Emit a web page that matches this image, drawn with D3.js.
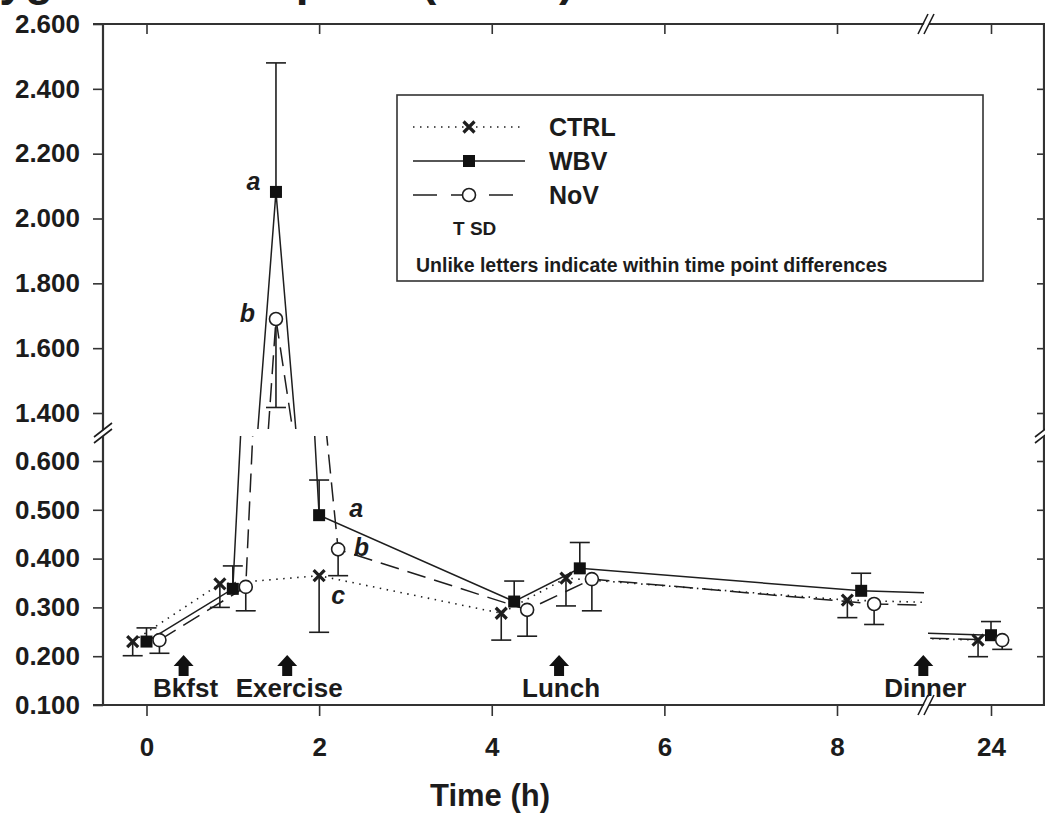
<!DOCTYPE html>
<html>
<head>
<meta charset="utf-8">
<script src="https://cdn.jsdelivr.net/npm/d3@7"></script>
<style>
body { margin: 0; background: #fff; }
text { font-family: "Liberation Sans", Arial, sans-serif; font-weight: bold; fill: #1c1c1c; }
</style>
</head>
<body>
<svg id="chart"></svg>
<script>
// DATA

var ctrlTime = [-0.16, 0.85, 2.0, 4.11, 4.86, 8.12, 23.85];
var ctrlMean = [0.230, 0.348, 0.365, 0.288, 0.360, 0.315, 0.233];
var ctrlSD   = [0.029, 0.048, 0.116, 0.055, 0.057, 0.036, 0.034];

var wbvTime = [0, 1.0, 1.5, 2.0, 4.26, 5.02, 8.28, 24.0];
var wbvMean = [0.230, 0.338, 2.082, 0.489, 0.312, 0.380, 0.334, 0.243];
var wbvSD   = [0.028, 0.047, 0.398, 0.072, 0.042, 0.053, 0.036, 0.028];

var novTime = [0.15, 1.15, 1.5, 2.22, 4.41, 5.16, 8.43, 24.13];
var novMean = [0.233, 0.342, 1.690, 0.419, 0.295, 0.358, 0.307, 0.233];
var novSD   = [0.027, 0.049, 0.273, 0.054, 0.054, 0.065, 0.042, 0.019];

var xTicksLeft = [0, 2, 4, 6, 8];
var xTicksRight = [24];
var yTicksLow = [0.1, 0.2, 0.3, 0.4, 0.5, 0.6];
var yTicksHigh = [1.4, 1.6, 1.8, 2.0, 2.2, 2.4, 2.6];

var mealNames = ["Bkfst", "Exercise", "Lunch", "Dinner"];
var mealTimes = [0.43, 1.63, 4.78, 9.0];

var letterText  = ["a", "b", "a", "b", "c"];
var letterTime  = [1.24, 1.17, 2.43, 2.49, 2.22];
var letterValue = [2.115, 1.708, 0.504, 0.424, 0.325];

// DIMENSIONS

var width = 1045,
	height = 813,
	plotLeft = 103,
	plotRight = 1044,
	plotTop = 24,
	plotBottom = 705,
	breakX = 925,
	breakY = 432,
	ink = "#1e1e1e",
	axisInk = "#333";

var svg = d3.select("#chart")
	.attr('width', width)
	.attr('height', height)
	.style('background', '#fff');

// SCALES (broken axes: two x pieces, two y pieces)

var x1 = d3.scaleLinear().domain([0, 8]).range([146.5, 837]);
var x2 = d3.scaleLinear().domain([23, 25]).range([904.7, 1077.3]);
var yLow = d3.scaleLinear().domain([0.1, 0.6]).range([705, 461]);
var yHigh = d3.scaleLinear().domain([1.4, 2.6]).range([413, 24]);

var xPanels = [{ s: x1, lo: plotLeft, hi: breakX - 1 }, { s: x2, lo: breakX + 3, hi: plotRight }];
var yPanels = [{ s: yLow, lo: 436, hi: plotBottom }, { s: yHigh, lo: plotTop, hi: 429 }];

function xPanel(t) { return t > 12 ? xPanels[1] : xPanels[0]; }
function yPanel(v) { return v > 1 ? yPanels[1] : yPanels[0]; }

var series = [
	{ name: "CTRL", time: ctrlTime, mean: ctrlMean, sd: ctrlSD, dash: "1.5,5.5", dir: -1, mark: "cross" },
	{ name: "WBV", time: wbvTime, mean: wbvMean, sd: wbvSD, dash: null, dir: 1, mark: "square" },
	{ name: "NoV", time: novTime, mean: novMean, sd: novSD, dash: "19,9", dir: -1, mark: "circle" }
];
series.forEach(function(s) {
	s.points = s.time.map(function(t, i) { return { t: t, v: s.mean[i], sd: s.sd[i] }; });
});

// title, cut off at the top of the picture
svg.append('text')
	.attr('x', -62)
	.attr('y', -5)
	.style('font-size', '46px')
	.text('Oxygen consumption (L/min)');

// CLIPS

var defs = svg.append('defs');
var panels = [];
xPanels.forEach(function(xp, i) {
	yPanels.forEach(function(yp, j) {
		var id = 'clip' + i + j;
		defs.append('clipPath').attr('id', id)
			.append('rect')
			.attr('x', xp.lo).attr('y', yp.lo)
			.attr('width', xp.hi - xp.lo).attr('height', yp.hi - yp.lo);
		panels.push({ xp: xp, yp: yp, id: id });
	});
});

// LINES

panels.forEach(function(p) {
	var line = d3.line()
		.x(function(d) { return p.xp.s(d.t); })
		.y(function(d) { return p.yp.s(d.v); });
	var g = svg.append('g').attr('clip-path', 'url(#' + p.id + ')');
	series.forEach(function(s) {
		g.append('path')
			.attr('d', line(s.points))
			.attr('fill', 'none')
			.attr('stroke', ink)
			.attr('stroke-width', s.mark == "cross" ? 1.6 : 1.5)
			.attr('stroke-dasharray', s.dash);
	});
});

// ERROR BARS (one sided)

series.forEach(function(s) {
	var g = svg.append('g').attr('stroke', ink).attr('stroke-width', 1.6);
	s.points.forEach(function(d) {
		var xs = xPanel(d.t).s, ys = yPanel(d.v).s;
		var cx = xs(d.t), y0 = ys(d.v), y1 = ys(d.v + s.dir * d.sd);
		g.append('line').attr('x1', cx).attr('x2', cx).attr('y1', y0).attr('y2', y1);
		g.append('line').attr('x1', cx - 10).attr('x2', cx + 10).attr('y1', y1).attr('y2', y1);
	});
});

// MARKERS

function drawMarker(g, mark, cx, cy) {
	if (mark == "cross") {
		g.append('path')
			.attr('d', 'M' + (cx - 5.5) + ',' + (cy - 5.5) + 'L' + (cx + 5.5) + ',' + (cy + 5.5) +
				'M' + (cx - 5.5) + ',' + (cy + 5.5) + 'L' + (cx + 5.5) + ',' + (cy - 5.5))
			.attr('stroke', ink).attr('stroke-width', 3.2);
	} else if (mark == "square") {
		g.append('rect')
			.attr('x', cx - 6).attr('y', cy - 6)
			.attr('width', 12).attr('height', 12)
			.attr('fill', '#111');
	} else {
		g.append('circle')
			.attr('cx', cx).attr('cy', cy).attr('r', 6.5)
			.attr('fill', '#fff').attr('stroke', ink).attr('stroke-width', 1.6);
	}
}

series.forEach(function(s) {
	var g = svg.append('g');
	s.points.forEach(function(d) {
		drawMarker(g, s.mark, xPanel(d.t).s(d.t), yPanel(d.v).s(d.v));
	});
});

// LETTERS

letterText.forEach(function(l, i) {
	var v = letterValue[i];
	svg.append('text')
		.attr('x', x1(letterTime[i]))
		.attr('y', yPanel(v).s(v))
		.attr('dy', '0.35em')
		.attr('text-anchor', 'middle')
		.style('font-size', '25px')
		.style('font-style', 'italic')
		.text(l);
});

// MEALS

mealNames.forEach(function(m, i) {
	var cx = x1(mealTimes[i]);
	svg.append('path')
		.attr('transform', 'translate(' + cx + ',655)')
		.attr('d', 'M0,0L10,11L5,11L5,21L-5,21L-5,11L-10,11Z')
		.attr('fill', '#111');
	svg.append('text')
		.attr('x', cx + 2)
		.attr('y', 697)
		.attr('text-anchor', 'middle')
		.style('font-size', '26px')
		.text(m);
});

// AXES

function tidy(g) {
	g.select('.domain').remove();
	g.selectAll('line').attr('stroke', axisInk).attr('stroke-width', 1.6);
	g.selectAll('text').attr('fill', '#1c1c1c').style('font-size', '26px');
}

var fmt = d3.format(".3f");

svg.append('g').attr('transform', 'translate(' + plotLeft + ',0)')
	.call(d3.axisLeft(yLow).tickValues(yTicksLow).tickFormat(fmt).tickSize(10).tickPadding(13))
	.call(tidy);
svg.append('g').attr('transform', 'translate(' + plotLeft + ',0)')
	.call(d3.axisLeft(yHigh).tickValues(yTicksHigh).tickFormat(fmt).tickSize(10).tickPadding(13))
	.call(tidy);
svg.append('g').attr('transform', 'translate(' + plotRight + ',0)')
	.call(d3.axisLeft(yLow).tickValues(yTicksLow.slice(1)).tickFormat('').tickSize(7))
	.call(tidy);
svg.append('g').attr('transform', 'translate(' + plotRight + ',0)')
	.call(d3.axisLeft(yHigh).tickValues(yTicksHigh.slice(0, -1)).tickFormat('').tickSize(7))
	.call(tidy);

svg.append('g').attr('transform', 'translate(0,' + plotBottom + ')')
	.call(d3.axisBottom(x1).tickValues(xTicksLeft).tickFormat(d3.format("d")).tickSize(11).tickPadding(22))
	.call(tidy);
svg.append('g').attr('transform', 'translate(0,' + plotBottom + ')')
	.call(d3.axisBottom(x2).tickValues(xTicksRight).tickFormat(d3.format("d")).tickSize(11).tickPadding(22))
	.call(tidy);
svg.append('g').attr('transform', 'translate(0,' + plotTop + ')')
	.call(d3.axisBottom(x1).tickValues(xTicksLeft).tickFormat('').tickSize(10))
	.call(tidy);
svg.append('g').attr('transform', 'translate(0,' + plotTop + ')')
	.call(d3.axisBottom(x2).tickValues(xTicksRight).tickFormat('').tickSize(10))
	.call(tidy);

// frame
var frame = svg.append('g').attr('stroke', axisInk).attr('stroke-width', 2.2).attr('fill', 'none');
frame.append('line').attr('x1', plotLeft - 10).attr('x2', width).attr('y1', plotTop).attr('y2', plotTop);
frame.append('line').attr('x1', plotLeft - 10).attr('x2', width).attr('y1', plotBottom).attr('y2', plotBottom);
frame.append('line').attr('x1', plotLeft).attr('x2', plotLeft).attr('y1', plotTop).attr('y2', plotBottom);
frame.append('line').attr('x1', plotRight).attr('x2', plotRight).attr('y1', plotTop).attr('y2', plotBottom);

// break marks
function hBreak(cx, cy) {
	svg.append('path')
		.attr('d', 'M' + (cx - 6) + ',' + (cy + 9) + 'L' + (cx + 4) + ',' + (cy - 9) +
			'L' + (cx + 9) + ',' + (cy - 9) + 'L' + (cx - 1) + ',' + (cy + 9) + 'Z')
		.attr('fill', '#fff');
	svg.append('path')
		.attr('d', 'M' + (cx - 7) + ',' + (cy + 10) + 'L' + (cx + 3) + ',' + (cy - 10) +
			'M' + (cx - 1) + ',' + (cy + 10) + 'L' + (cx + 9) + ',' + (cy - 10))
		.attr('stroke', ink).attr('stroke-width', 1.6);
}
function vBreak(cx, cy) {
	svg.append('path')
		.attr('d', 'M' + (cx - 8) + ',' + (cy + 5) + 'L' + (cx + 8) + ',' + (cy - 8) +
			'L' + (cx + 8) + ',' + (cy - 2) + 'L' + (cx - 8) + ',' + (cy + 11) + 'Z')
		.attr('fill', '#fff');
	svg.append('path')
		.attr('d', 'M' + (cx - 9) + ',' + (cy + 5) + 'L' + (cx + 9) + ',' + (cy - 9) +
			'M' + (cx - 9) + ',' + (cy + 11) + 'L' + (cx + 9) + ',' + (cy - 3))
		.attr('stroke', ink).attr('stroke-width', 1.6);
}
hBreak(breakX, plotTop);
hBreak(breakX, plotBottom);
vBreak(plotLeft, breakY);
vBreak(plotRight, breakY);

// axis title
svg.append('text')
	.attr('x', 490)
	.attr('y', 806)
	.attr('text-anchor', 'middle')
	.style('font-size', '31px')
	.text('Time (h)');

// LEGEND

var legend = svg.append('g');
legend.append('rect')
	.attr('x', 397).attr('y', 95)
	.attr('width', 586).attr('height', 186)
	.attr('fill', '#fff')
	.attr('stroke', axisInk).attr('stroke-width', 1.6);

series.forEach(function(s, i) {
	var ly = 127 + i * 34;
	legend.append('line')
		.attr('x1', 413).attr('x2', 525).attr('y1', ly).attr('y2', ly)
		.attr('stroke', ink).attr('stroke-width', 1.5)
		.attr('stroke-dasharray', s.mark == "circle" ? "24,14" : s.dash);
	drawMarker(legend, s.mark, 469, ly);
	legend.append('text')
		.attr('x', 549).attr('y', ly + 9)
		.style('font-size', '25px')
		.text(s.name);
});

legend.append('text')
	.attr('x', 453).attr('y', 235)
	.style('font-size', '19px')
	.text('T SD');

legend.append('text')
	.attr('x', 416).attr('y', 272)
	.style('font-size', '19.5px')
	.text('Unlike letters indicate within time point differences');
</script>
</body>
</html>
